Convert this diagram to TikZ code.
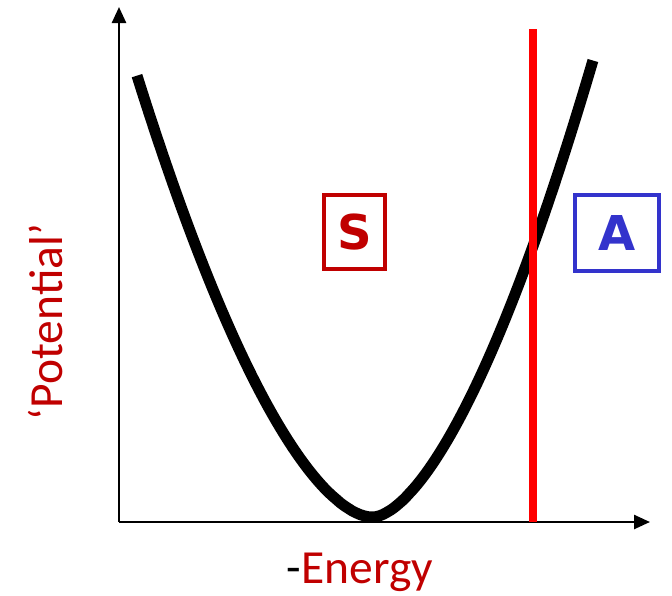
\documentclass[tikz,border=0pt]{standalone}
\usepackage{fontspec}
\setmainfont{Carlito}
\newfontfamily\boxfont{DejaVu Sans}
\usetikzlibrary{arrows.meta,positioning}
\definecolor{darkred}{RGB}{192,0,0}
\definecolor{boxblue}{RGB}{51,51,204}

\begin{document}
\begin{tikzpicture}[x=1pt, y=-1pt,
    axis/.style={line width=2.5pt, -{Triangle[width=14pt,length=16pt]}},
    well/.style={line width=11pt, line join=round},
    cut/.style={line width=8pt, red},
    region/.style={rectangle, draw, line width=4pt, inner sep=0pt, font=\boxfont\bfseries\fontsize{48}{50}\selectfont},
    axislabel/.style={font=\fontsize{47.5}{50}\selectfont, text=darkred, inner sep=0pt}
]
\useasboundingbox (0,0) rectangle (672,595);

% Axes
\coordinate (origin) at (119,522);
\coordinate (ytip) at (119,7);
\coordinate (xtip) at (650,522);
\draw [axis] (origin) -- (ytip);
\draw [axis] (origin) -- (xtip);

% Potential well
\draw [well] plot [domain=-2.35:0, samples=60, variable=\t] ({372+100*\t}, {519.1-104.5*(\t*\t+0.01)^0.845})
    -- plot [domain=0:2.21, samples=60, variable=\t] ({372+100*\t}, {519.9-125*(\t*\t+0.01)^0.82});

% Cut
\coordinate (cuttop) at (533,29);
\coordinate (cutbot) at (533,522);
\draw [cut] (cuttop) -- (cutbot);

% Nodes
\node (sbox) [region, draw=darkred, text=darkred, minimum width=61pt, minimum height=74pt] at (354.5,232) {S};
\node (abox) [region, draw=boxblue, text=boxblue, minimum width=84pt, minimum height=76pt] at (617,233) {A};

% Labels
\node (xlabel) [axislabel, anchor=base] at (360,583) {\textcolor{black}{-}Energy};
\node (ylabel) [axislabel, anchor=base, rotate=90] at (62,322) {‘Potential’};

\end{tikzpicture}
\end{document}
